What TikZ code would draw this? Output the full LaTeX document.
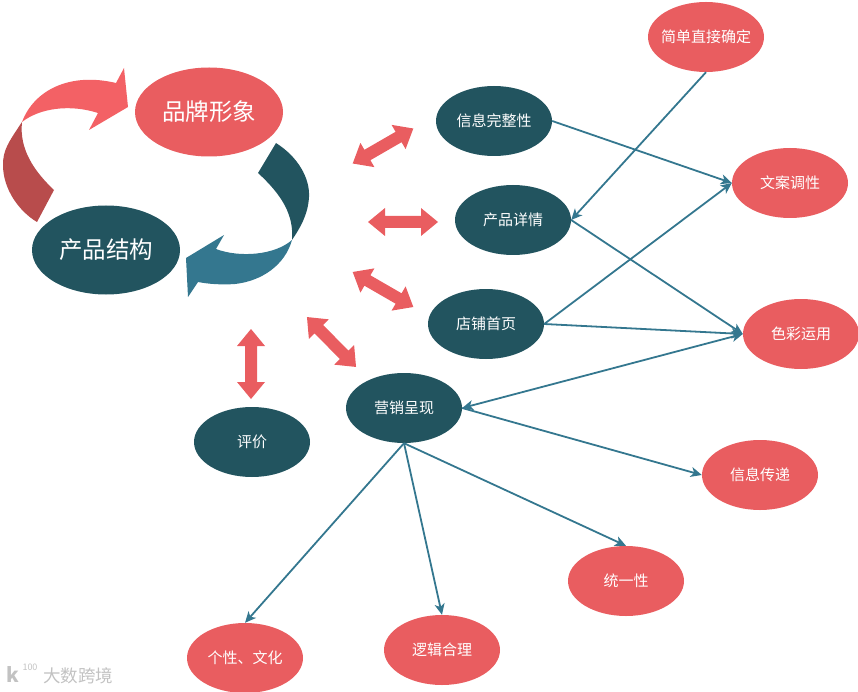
\documentclass[tikz,border=0pt]{standalone}
\usepackage{fontspec}
\setmainfont{Noto Sans CJK SC}
\usetikzlibrary{shapes.geometric,arrows.meta}
\definecolor{coral}{HTML}{E95D60}
\definecolor{deep}{HTML}{22545F}
\definecolor{link}{HTML}{34778F}
\definecolor{pinkband}{HTML}{F36165}
\definecolor{brickband}{HTML}{B84C4C}
\tikzset{
  blob/.style={ellipse,minimum width=116pt,minimum height=70pt,inner sep=0pt,text=white,font=\fontsize{15}{18}\selectfont},
  bigblob/.style={blob,minimum width=148pt,minimum height=89pt,font=\fontsize{23.5}{28}\selectfont},
  red/.style={fill=coral},
  dark/.style={fill=deep},
  conn/.style={draw=link,line width=1.8pt,-{Stealth[length=11pt,width=10pt,inset=3pt]}},
  conntwo/.style={draw=link,line width=1.8pt,{Stealth[length=11pt,width=10pt,inset=3pt]}-{Stealth[length=11pt,width=10pt,inset=3pt]}},
  wmark/.style={text=black!24,inner sep=0pt},
}
\newcommand{\lab}[1]{\raisebox{-1.8pt}{\makebox[0pt][c]{#1}}}
\newcommand{\dblarrow}[3]{\fill[coral,shift={(#1,#2)},rotate=#3]
  (-35,0)--(-18,-14)--(-18,-6)--(18,-6)--(18,-14)--(35,0)--(18,14)--(18,6)--(-18,6)--(-18,14)--cycle;}
\begin{document}
\begin{tikzpicture}[x=1pt,y=-1pt]
\useasboundingbox (0,0) rectangle (858,692);
% ribbons
\fill[brickband]
  (22,122) .. controls (8,143) and (3,150) .. (3,165)
  .. controls (3,190) and (20,212) .. (37,222) -- (54,190)
  .. controls (35,172) and (19,150) .. (22,122) -- cycle;
\fill[pinkband]
  (22,122) .. controls (34,90) and (70,72) .. (116,83) -- (124,68) -- (128,107)
  -- (89,130) -- (98,113) .. controls (70,104) and (40,108) .. (22,122) -- cycle;
\fill[deep]
  (276,143) .. controls (298,157) and (310,178) .. (309,197)
  .. controls (308,215) and (300,228) .. (292,240)
  .. controls (294,215) and (282,195) .. (258,173) -- cycle;
\fill[link]
  (292,240) .. controls (285,265) and (262,281) .. (235,284)
  .. controls (222,285) and (208,284) .. (198,282) -- (188,297) -- (186,258) -- (224,235) -- (216,249)
  .. controls (240,258) and (275,255) .. (292,240) -- cycle;
% ellipses
\node[bigblob,red] (brand) at (209,112) {\lab{品牌形象}};
\node[bigblob,dark] (product) at (106,250) {\lab{产品结构}};
\node[blob,dark] (info) at (494,121) {\lab{信息完整性}};
\node[blob,dark] (detail) at (513,220) {\lab{产品详情}};
\node[blob,dark] (home) at (486,324) {\lab{店铺首页}};
\node[blob,dark] (mkt) at (404,408) {\lab{营销呈现}};
\node[blob,dark] (review) at (252,442) {\lab{评价}};
\node[blob,red] (simple) at (706,37) {\lab{简单直接确定}};
\node[blob,red] (copy) at (790,183) {\lab{文案调性}};
\node[blob,red] (colour) at (801,334) {\lab{色彩运用}};
\node[blob,red] (pass) at (760,475) {\lab{信息传递}};
\node[blob,red] (unity) at (626,581) {\lab{统一性}};
\node[blob,red] (logic) at (442,650) {\lab{逻辑合理}};
\node[blob,red] (style) at (245,658) {\lab{个性、文化}};
% connectors
\draw[conn] (info.east) -- (copy.west);
\draw[conn] (simple.south) -- (detail.east);
\draw[conn] (detail.east) -- (colour.west);
\draw[conn] (home.east) -- (copy.west);
\draw[conn] (home.east) -- (colour.west);
\draw[conntwo] (colour.west) -- (mkt.east);
\draw[conn] (mkt.east) -- (pass.west);
\draw[conn] (mkt.south) -- (unity.north);
\draw[conn] (mkt.south) -- (logic.north);
\draw[conn] (mkt.south) -- (style.north);
% double arrows
\dblarrow{383}{146}{30}
\dblarrow{403}{222}{0}
\dblarrow{383}{289.5}{-30}
\dblarrow{331.5}{342}{-45.5}
\dblarrow{251}{364}{90}
% watermark
\node[wmark,font=\fontsize{17.5}{20}\selectfont] (mark) at (78,676) {大数跨境};
\node[wmark,font=\bfseries\fontsize{20}{22}\selectfont] (markk) at (13,675) {k};
\node[wmark,font=\fontsize{9}{10}\selectfont] (markn) at (30,667) {100};
\end{tikzpicture}
\end{document}
